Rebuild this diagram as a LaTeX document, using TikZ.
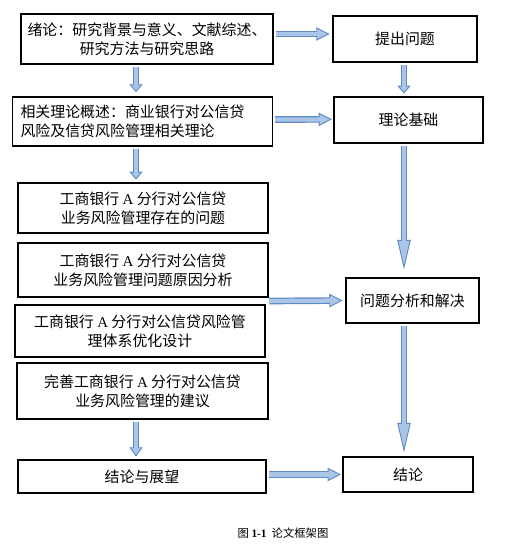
\documentclass[tikz,border=0pt]{standalone}
\usepackage{fontspec}
\setmainfont{Liberation Serif}
\newfontfamily\cjk{Noto Sans CJK SC}
\usepackage{xcolor}
\usetikzlibrary{calc}
\usetikzlibrary{arrows.meta}
\definecolor{arrowdark}{RGB}{95,138,196}
\definecolor{arrowlight}{RGB}{170,197,232}
\def\headlen{10pt}
\tikzstyle{box}=[draw,line width=1.1pt,inner sep=2pt,font=\cjk\fontsize{11.2}{14.5}\selectfont,align=center]
\tikzset{headlen/.store in=\headlen,
  flowarrow/.style={headlen=#1,line width=5pt,draw=arrowdark,
  -{Triangle[length=#1,width=10pt,fill=arrowlight,line width=0.7pt]},
  postaction={draw=arrowlight,line width=3.2pt,-,shorten >=\headlen-1pt}}}

\begin{document}
\begin{tikzpicture}[x=0.75pt,y=-0.75pt]

  % page frame
  \useasboundingbox (0,0) rectangle (507,547);

  % left column
  \node[box,minimum width=189pt,minimum height=37.5pt] (intro) at (147,39)
    {绪论：研究背景与意义、文献综述、\\研究方法与研究思路};
  \node[box,inner xsep=6pt,text width=183pt,minimum height=36.75pt,align=left] (theory) at (142.5,121.5)
    {相关理论概述：商业银行对公信贷\\风险及信贷风险管理相关理论};
  \node[box,minimum width=187.5pt,minimum height=37.5pt] (issue) at (143,208)
    {工商银行 {\rmfamily A} 分行对公信贷\\业务风险管理存在的问题};
  \node[box,minimum width=187.5pt,minimum height=40.5pt] (cause) at (143,270)
    {工商银行 {\rmfamily A} 分行对公信贷\\业务风险管理问题原因分析};
  \node[box,minimum width=187.5pt,minimum height=39pt] (design) at (140,331)
    {工商银行 {\rmfamily A} 分行对公信贷风险管\\理体系优化设计};
  \node[box,minimum width=188.25pt,minimum height=42pt] (advice) at (142.5,391)
    {完善工商银行 {\rmfamily A} 分行对公信贷\\业务风险管理的建议};
  \node[box,minimum width=186pt,minimum height=24.75pt] (outlook) at (142,476.5)
    {结论与展望};

  % right column
  \node[box,minimum width=108pt,minimum height=34.5pt] (problem) at (405,39)
    {提出问题};
  \node[box,minimum width=111.75pt,minimum height=34.5pt] (basis) at (408.5,120)
    {理论基础};
  \node[box,minimum width=99.75pt,minimum height=33.75pt] (analysis) at (412.5,300.5)
    {问题分析和解决};
  \node[box,minimum width=97.5pt,minimum height=26.25pt] (concl) at (408,474.5)
    {结论};

  % arrow columns
  \coordinate (lx) at (136,0);
  \coordinate (rx) at (404,0);

  % arrows
  \draw[flowarrow=10pt] ([yshift=3.75pt]intro.east) ++(1.5pt,0)
    -- ([yshift=3.75pt,xshift=-2pt]problem.west);
  \draw[flowarrow=10pt] ([yshift=1.5pt]theory.east) ++(1.5pt,0)
    -- ([yshift=0.5pt,xshift=-1pt]basis.west);
  \draw[flowarrow=6pt] ([yshift=-1.5pt]intro.south -| lx)
    -- ([yshift=3pt]theory.north -| lx);
  \draw[flowarrow=6pt] ([yshift=-1.5pt]theory.south -| lx)
    -- ([yshift=2pt]issue.north -| lx);
  \draw[flowarrow=6pt] ([yshift=-2pt]problem.south -| rx)
    -- ([yshift=2pt]basis.north -| rx);
  \draw[flowarrow=22pt] ([yshift=-2pt]basis.south -| rx)
    -- ([yshift=6pt]analysis.north -| rx);
  \draw[flowarrow=10pt] ($(cause.south east)!0.5!(design.north east)$) ++(1.5pt,0)
    -- ([xshift=-2pt]analysis.west);
  \draw[flowarrow=22pt] ([yshift=-2pt]analysis.south -| rx)
    -- ([yshift=3pt]concl.north -| rx);
  \draw[flowarrow=7pt] ([yshift=-1.5pt]advice.south -| lx)
    -- ([yshift=2pt]outlook.north -| lx);
  \draw[flowarrow=10pt] ([yshift=1.5pt]outlook.east) ++(2pt,0)
    -- ([xshift=-1pt]concl.west);

  % caption
  \node[font=\cjk\fontsize{8.5}{10}\selectfont] (caption) at (283,533)
    {图 {\rmfamily\bfseries 1-1}\ \ 论文框架图};

\end{tikzpicture}
\end{document}
